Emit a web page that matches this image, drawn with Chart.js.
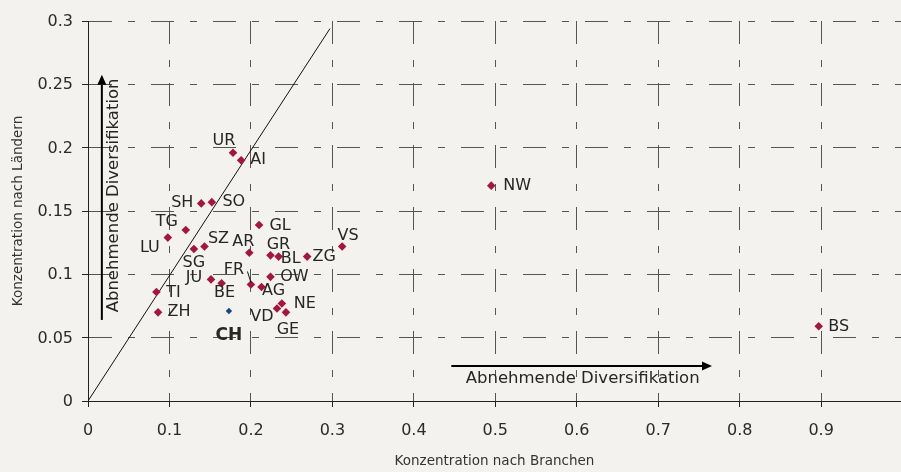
<!DOCTYPE html>
<html>
<head>
<meta charset="utf-8">
<script src="https://cdn.jsdelivr.net/npm/chart.js@4.4.1/dist/chart.umd.min.js"></script>
<style>
  html, body { margin: 0; padding: 0; background: #f4f2ef; overflow: hidden; }
  canvas { display: block; }
</style>
</head>
<body>
<canvas id="chart" width="901" height="472"></canvas>
<script>
// cantons: concentration by branches (x) and by countries (y)
const cantons = ["UR", "AI", "SH", "SO", "GL", "TG", "LU", "SZ", "SG", "AR", "GR", "BL", "ZG", "VS",
  "OW", "JU", "FR", "BE", "AG", "TI", "NE", "VD", "GE", "ZH", "NW", "BS"];
const branchConc = [0.178, 0.188, 0.139, 0.152, 0.210, 0.120, 0.098, 0.143, 0.130, 0.198, 0.224, 0.234, 0.269, 0.312,
  0.224, 0.151, 0.200, 0.164, 0.213, 0.084, 0.238, 0.232, 0.243, 0.086, 0.495, 0.897];
const countryConc = [0.196, 0.190, 0.156, 0.157, 0.139, 0.135, 0.129, 0.122, 0.120, 0.117, 0.115, 0.114, 0.114, 0.122,
  0.098, 0.096, 0.092, 0.093, 0.090, 0.086, 0.077, 0.073, 0.070, 0.070, 0.170, 0.059];

const swissName = "CH";
const swissX = [0.173];
const swissY = [0.071];

// 45-degree reference line
const diagX = [0, 0.297];
const diagY = [0, 0.294];

// arrows "Abnehmende Diversifikation" [from, to] in data units
const upArrow = [[0.017, 0.064], [0.017, 0.2575]];
const rightArrow = [[0.446, 0.0276], [0.766, 0.0276]];
const arrowText = "Abnehmende Diversifikation";

const xTicks = [0, 0.1, 0.2, 0.3, 0.4, 0.5, 0.6, 0.7, 0.8, 0.9];
const yTicks = [0, 0.05, 0.1, 0.15, 0.2, 0.25, 0.3];

// where each label sits relative to its marker (px, text centre)
const labelOffsets = {
  UR: [-9, -12], AI: [17, 0], SH: [-19, -1], SO: [22, 0], GL: [21, 1], TG: [-19, -8], LU: [-18, 10],
  SZ: [14, -8], SG: [0, 14], AR: [-6, -11], GR: [8, -10], BL: [12, 2], ZG: [17, 0], VS: [6, -11],
  OW: [24, 0], JU: [-17, -2], FR: [-17, -15], BE: [3, 10], AG: [12, 4], TI: [17, 1], NE: [23, 0],
  VD: [-15, 8], GE: [2, 18], ZH: [21, 0], NW: [26, 0], BS: [20, 1]
};

const FONT = "'DejaVu Sans', sans-serif";
const fmt = v => String(+(+v).toFixed(2));

function drawArrow(ctx, x1, y1, x2, y2) {
  const ang = Math.atan2(y2 - y1, x2 - x1);
  const head = 10, half = 4.5;
  const bx = x2 - Math.cos(ang) * head, by = y2 - Math.sin(ang) * head;
  ctx.lineWidth = 2;
  ctx.beginPath();
  ctx.moveTo(x1, y1);
  ctx.lineTo(bx, by);
  ctx.stroke();
  ctx.beginPath();
  ctx.moveTo(x2, y2);
  ctx.lineTo(bx - Math.sin(ang) * half, by + Math.cos(ang) * half);
  ctx.lineTo(bx + Math.sin(ang) * half, by - Math.cos(ang) * half);
  ctx.closePath();
  ctx.fill();
}

const annotate = {
  id: "annotate",
  afterDatasetsDraw(chart) {
    const { ctx, scales: { x, y } } = chart;
    ctx.save();
    ctx.fillStyle = "#262626";
    ctx.strokeStyle = "#111";
    ctx.textAlign = "center";
    ctx.textBaseline = "middle";
    ctx.font = "16px " + FONT;

    chart.getDatasetMeta(0).data.forEach((pt, i) => {
      const [dx, dy] = labelOffsets[cantons[i]];
      ctx.fillText(cantons[i], pt.x + dx, pt.y + dy);
      if (cantons[i] === "FR") {
        ctx.lineWidth = 1;
        ctx.beginPath();
        ctx.moveTo(pt.x, pt.y - 2);
        ctx.lineTo(pt.x - 3.5, pt.y - 13);
        ctx.stroke();
      }
    });

    const ch = chart.getDatasetMeta(1).data[0];
    ctx.font = "bold 17px " + FONT;
    ctx.fillText(swissName, ch.x, ch.y + 25);

    // arrows
    ctx.fillStyle = "#000";
    ctx.strokeStyle = "#000";
    const ux = x.getPixelForValue(upArrow[0][0]);
    const uy1 = y.getPixelForValue(upArrow[0][1]), uy2 = y.getPixelForValue(upArrow[1][1]);
    drawArrow(ctx, ux, uy1, ux, uy2);
    const ry = y.getPixelForValue(rightArrow[0][1]);
    const rx1 = x.getPixelForValue(rightArrow[0][0]), rx2 = x.getPixelForValue(rightArrow[1][0]);
    drawArrow(ctx, rx1, ry, rx2, ry);

    ctx.fillStyle = "#262626";
    ctx.font = "16.5px " + FONT;
    ctx.fillText(arrowText, (rx1 + rx2) / 2 + 1, ry + 12.6);
    ctx.save();
    ctx.translate(ux + 11.5, (uy1 + uy2) / 2 - 2);
    ctx.rotate(-Math.PI / 2);
    ctx.fillText(arrowText, 0, 0);
    ctx.restore();

    ctx.restore();
  }
};

const axisFont = { family: FONT, size: 16 };
const gridDash = [23, 16, 7, 16];

new Chart(document.getElementById("chart"), {
  type: "scatter",
  data: {
    datasets: [
      {
        data: branchConc.map((v, i) => ({ x: v, y: countryConc[i] })),
        pointStyle: "rectRot",
        pointRadius: 4.3,
        pointHoverRadius: 4.3,
        backgroundColor: "#a3173f",
        borderColor: "#a3173f",
        borderWidth: 0
      },
      {
        data: swissX.map((v, i) => ({ x: v, y: swissY[i] })),
        pointStyle: "rectRot",
        pointRadius: 3.2,
        pointHoverRadius: 3.2,
        backgroundColor: "#17497d",
        borderColor: "#17497d",
        borderWidth: 0
      },
      {
        type: "line",
        data: diagX.map((v, i) => ({ x: v, y: diagY[i] })),
        borderColor: "#111",
        borderWidth: 1,
        pointRadius: 0,
        fill: false
      }
    ]
  },
  options: {
    responsive: false,
    animation: false,
    events: [],
    layout: { autoPadding: false, padding: { top: 21, right: 0, bottom: 0, left: 0 } },
    plugins: { legend: { display: false }, tooltip: { enabled: false } },
    scales: {
      x: {
        type: "linear",
        min: 0,
        max: 0.998,
        afterBuildTicks: s => { s.ticks = xTicks.map(v => ({ value: v })); },
        afterFit: s => { s.height = 71; s.paddingRight = 0; s.paddingLeft = 0; },
        ticks: { callback: fmt, color: "#2a2a2a", font: axisFont, padding: 14, maxRotation: 0, autoSkip: false },
        grid: { color: "#555", lineWidth: 1, tickLength: 6, tickColor: "#222" },
        border: { color: "#222", width: 1, dash: gridDash },
        title: {
          display: true, text: "Konzentration nach Branchen", color: "#333",
          font: { family: FONT, size: 13.5 }, padding: { top: 0, bottom: 2 }
        }
      },
      y: {
        type: "linear",
        min: 0,
        max: 0.3,
        afterBuildTicks: s => { s.ticks = yTicks.map(v => ({ value: v })); },
        afterFit: s => { s.width = 88; s.paddingTop = 0; s.paddingBottom = 0; },
        ticks: { callback: fmt, color: "#2a2a2a", font: axisFont, padding: 9, labelOffset: 1 },
        grid: { color: "#555", lineWidth: 1, tickLength: 6, tickColor: "#222" },
        border: { color: "#222", width: 1, dash: gridDash },
        title: {
          display: true, text: "Konzentration nach Ländern", color: "#333",
          font: { family: FONT, size: 13.5 }, padding: { top: 10, bottom: 0 }
        }
      }
    }
  },
  plugins: [annotate]
});
</script>
</body>
</html>
